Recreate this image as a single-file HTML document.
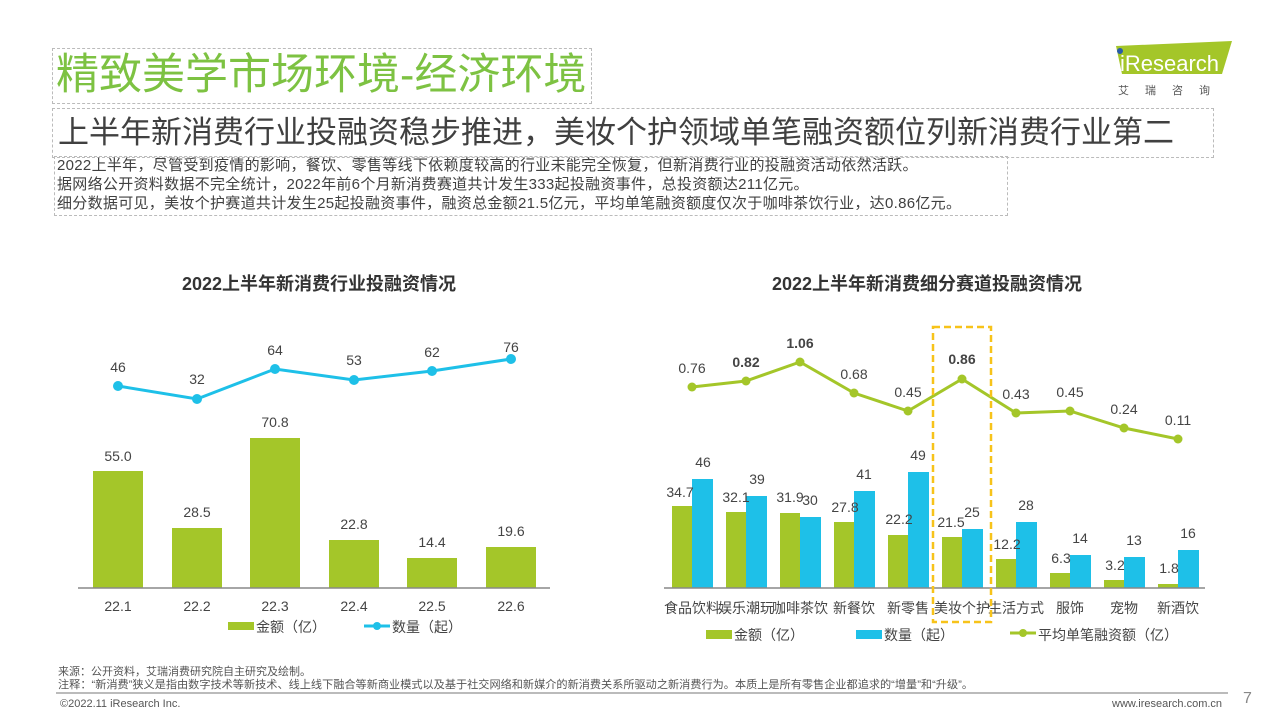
<!DOCTYPE html>
<html><head><meta charset="utf-8"><style>
body{margin:0;width:1280px;height:720px;background:#fff;position:relative;overflow:hidden;font-family:"Liberation Sans","Noto Sans CJK SC",sans-serif;}
.a{position:absolute;white-space:nowrap;}
.db{border:1px dashed #bbb;}
</style></head><body>
<div class="a db" style="left:52px;top:48px;width:538px;height:54px;"></div>
<div class="a" style="left:56px;top:47px;font-size:43px;color:#7dc242;line-height:56px;">精致美学市场环境-经济环境</div>
<div class="a db" style="left:52px;top:108px;width:1160px;height:48px;"></div>
<div class="a" style="left:58px;top:108px;font-size:31px;color:#404040;line-height:50px;">上半年新消费行业投融资稳步推进，美妆个护领域单笔融资额位列新消费行业第二</div>
<div class="a db" style="left:54px;top:156px;width:952px;height:58px;"></div>
<div class="a" style="left:57px;top:156px;font-size:15px;color:#404040;line-height:19px;letter-spacing:0.3px;">2022上半年，尽管受到疫情的影响，餐饮、零售等线下依赖度较高的行业未能完全恢复，但新消费行业的投融资活动依然活跃。<br>据网络公开资料数据不完全统计，2022年前6个月新消费赛道共计发生333起投融资事件，总投资额达211亿元。<br>细分数据可见，美妆个护赛道共计发生25起投融资事件，融资总金额21.5亿元，平均单笔融资额度仅次于咖啡茶饮行业，达0.86亿元。</div>
<svg class="a" style="left:1110px;top:40px" width="125" height="60">
<polygon points="6,6 122,1 112,34 12,34" fill="#a4c629"/>
<circle cx="10" cy="11" r="3" fill="#2a5caa"/>
<text x="10" y="31" font-size="22" fill="#fff" font-family="Liberation Sans">iResearch</text>
<text x="8" y="54" font-size="11" fill="#555" letter-spacing="16" font-family="Noto Sans CJK SC">艾瑞咨询</text>
</svg>
<div class="a" style="left:182px;top:270px;font-size:18px;font-weight:bold;color:#333;">2022上半年新消费行业投融资情况</div>
<div class="a" style="left:772px;top:270px;font-size:18px;font-weight:bold;color:#333;">2022上半年新消费细分赛道投融资情况</div>
<svg class="a" style="left:0;top:0" width="1280" height="720" font-family="Liberation Sans, Noto Sans CJK SC, sans-serif" font-size="14" fill="#444">
<g fill="#a4c629">
<rect x="93" y="471" width="50" height="117"/><rect x="172" y="528" width="50" height="60"/><rect x="250" y="438" width="50" height="150"/><rect x="329" y="540" width="50" height="48"/><rect x="407" y="558" width="50" height="30"/><rect x="486" y="547" width="50" height="41"/>
</g>
<line x1="78" y1="588" x2="550" y2="588" stroke="#888" stroke-width="1.5"/>
<polyline points="118,386 197,399 275,369 354,380 432,371 511,359" fill="none" stroke="#1ec0e8" stroke-width="3"/>
<g fill="#1ec0e8"><circle cx="118" cy="386" r="5"/><circle cx="197" cy="399" r="5"/><circle cx="275" cy="369" r="5"/><circle cx="354" cy="380" r="5"/><circle cx="432" cy="371" r="5"/><circle cx="511" cy="359" r="5"/></g>
<g text-anchor="middle">
<text x="118" y="372">46</text><text x="197" y="384">32</text><text x="275" y="355">64</text><text x="354" y="365">53</text><text x="432" y="357">62</text><text x="511" y="352">76</text>
<text x="118" y="461">55.0</text><text x="197" y="517">28.5</text><text x="275" y="427">70.8</text><text x="354" y="529">22.8</text><text x="432" y="547">14.4</text><text x="511" y="536">19.6</text>
<text x="118" y="611">22.1</text><text x="197" y="611">22.2</text><text x="275" y="611">22.3</text><text x="354" y="611">22.4</text><text x="432" y="611">22.5</text><text x="511" y="611">22.6</text>
</g>
<rect x="228" y="622" width="26" height="8" fill="#a4c629"/><text x="256" y="632">金额（亿）</text>
<line x1="364" y1="626" x2="390" y2="626" stroke="#1ec0e8" stroke-width="3"/><circle cx="377" cy="626" r="4" fill="#1ec0e8"/><text x="392" y="632">数量（起）</text>

<g fill="#a4c629">
<rect x="672" y="506" width="20" height="82"/><rect x="726" y="512" width="20" height="76"/><rect x="780" y="513" width="20" height="75"/><rect x="834" y="522" width="20" height="66"/><rect x="888" y="535" width="20" height="53"/><rect x="942" y="537" width="20" height="51"/><rect x="996" y="559" width="20" height="29"/><rect x="1050" y="573" width="20" height="15"/><rect x="1104" y="580" width="20" height="8"/><rect x="1158" y="584" width="20" height="4"/>
</g>
<g fill="#1ec0e8">
<rect x="692" y="479" width="21" height="109"/><rect x="746" y="496" width="21" height="92"/><rect x="800" y="517" width="21" height="71"/><rect x="854" y="491" width="21" height="97"/><rect x="908" y="472" width="21" height="116"/><rect x="962" y="529" width="21" height="59"/><rect x="1016" y="522" width="21" height="66"/><rect x="1070" y="555" width="21" height="33"/><rect x="1124" y="557" width="21" height="31"/><rect x="1178" y="550" width="21" height="38"/>
</g>
<line x1="664" y1="588" x2="1205" y2="588" stroke="#888" stroke-width="1.5"/>
<polyline points="692,387 746,381 800,362 854,393 908,411 962,379 1016,413 1070,411 1124,428 1178,439" fill="none" stroke="#a4c629" stroke-width="3"/>
<g fill="#a4c629"><circle cx="692" cy="387" r="4.5"/><circle cx="746" cy="381" r="4.5"/><circle cx="800" cy="362" r="4.5"/><circle cx="854" cy="393" r="4.5"/><circle cx="908" cy="411" r="4.5"/><circle cx="962" cy="379" r="4.5"/><circle cx="1016" cy="413" r="4.5"/><circle cx="1070" cy="411" r="4.5"/><circle cx="1124" cy="428" r="4.5"/><circle cx="1178" cy="439" r="4.5"/></g>
<g text-anchor="middle">
<text x="692" y="373">0.76</text><text x="746" y="367" font-weight="bold">0.82</text><text x="800" y="348" font-weight="bold">1.06</text><text x="854" y="379">0.68</text><text x="908" y="397">0.45</text><text x="962" y="364" font-weight="bold">0.86</text><text x="1016" y="399">0.43</text><text x="1070" y="397">0.45</text><text x="1124" y="414">0.24</text><text x="1178" y="425">0.11</text>
<text x="703" y="467">46</text><text x="757" y="484">39</text><text x="810" y="505">30</text><text x="864" y="479">41</text><text x="918" y="460">49</text><text x="972" y="517">25</text><text x="1026" y="510">28</text><text x="1080" y="543">14</text><text x="1134" y="545">13</text><text x="1188" y="538">16</text>
<text x="680" y="497">34.7</text><text x="736" y="502">32.1</text><text x="790" y="502">31.9</text><text x="845" y="512">27.8</text><text x="899" y="524">22.2</text><text x="951" y="527">21.5</text><text x="1007" y="549">12.2</text><text x="1061" y="563">6.3</text><text x="1115" y="570">3.2</text><text x="1169" y="573">1.8</text>
<text x="692" y="613">食品饮料</text><text x="746" y="613">娱乐潮玩</text><text x="800" y="613">咖啡茶饮</text><text x="854" y="613">新餐饮</text><text x="908" y="613">新零售</text><text x="962" y="613">美妆个护</text><text x="1016" y="613">生活方式</text><text x="1070" y="613">服饰</text><text x="1124" y="613">宠物</text><text x="1178" y="613">新酒饮</text>
</g>
<rect x="933" y="327" width="58" height="295" fill="none" stroke="#f7c31a" stroke-width="2.5" stroke-dasharray="7,4"/>
<rect x="706" y="630" width="26" height="9" fill="#a4c629"/><text x="734" y="640">金额（亿）</text>
<rect x="856" y="630" width="26" height="9" fill="#1ec0e8"/><text x="884" y="640">数量（起）</text>
<line x1="1010" y1="633" x2="1036" y2="633" stroke="#a4c629" stroke-width="3"/><circle cx="1023" cy="633" r="4" fill="#a4c629"/><text x="1038" y="640">平均单笔融资额（亿）</text>
<g font-size="11" fill="#555">
<text x="58" y="675">来源：公开资料，艾瑞消费研究院自主研究及绘制。</text>
<text x="58" y="688" textLength="915" lengthAdjust="spacingAndGlyphs">注释：“新消费”狭义是指由数字技术等新技术、线上线下融合等新商业模式以及基于社交网络和新媒介的新消费关系所驱动之新消费行为。本质上是所有零售企业都追求的“增量”和“升级”。</text>
<text x="60" y="707">©2022.11 iResearch Inc.</text>
<text x="1112" y="707">www.iresearch.com.cn</text>
</g>
<line x1="56" y1="693" x2="1228" y2="693" stroke="#bbb" stroke-width="2"/>
<text x="1243" y="703" font-size="16" fill="#888">7</text>
</svg>
</body></html>
